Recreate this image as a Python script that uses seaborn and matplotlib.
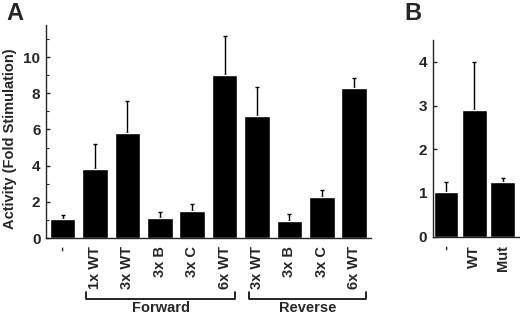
import matplotlib
matplotlib.use("Agg")
import matplotlib.pyplot as plt
import matplotlib.transforms as mtransforms
import seaborn as sns
import pandas as pd
import numpy as np

# ---- data ----
a_keys = ["-", "F 1x WT", "F 3x WT", "F 3x B", "F 3x C", "F 6x WT",
          "R 3x WT", "R 3x B", "R 3x C", "R 6x WT"]
a_labels = ["-", "1x WT", "3x WT", "3x B", "3x C", "6x WT",
            "3x WT", "3x B", "3x C", "6x WT"]
a_values = [1.05, 3.8, 5.78, 1.12, 1.5, 9.0, 6.75, 0.95, 2.25, 8.27]
a_errors = [0.2, 1.42, 1.78, 0.3, 0.4, 2.15, 1.6, 0.35, 0.4, 0.57]

b_labels = ["-", "WT", "Mut"]
b_values = [1.02, 2.9, 1.25]
b_errors = [0.23, 1.1, 0.1]

groups = ["Forward", "Reverse"]

sns.set_style("ticks")
plt.rcParams["font.family"] = ["Liberation Sans", "DejaVu Sans"]
plt.rcParams["font.weight"] = "bold"

fig = plt.figure(figsize=(5.2, 3.15), dpi=100)
axA = fig.add_axes([0.0885, 0.2444, 0.713 - 0.0885, 0.9206 - 0.2444])
axB = fig.add_axes([0.832, 0.2486, 0.998 - 0.832, 0.873 - 0.2486])

dfA = pd.DataFrame({"key": a_keys, "value": a_values})
dfB = pd.DataFrame({"key": b_labels, "value": b_values})

sns.barplot(data=dfA, x="key", y="value", order=a_keys, color="black",
            saturation=1, width=0.79, ax=axA, errorbar=None, zorder=2)
sns.barplot(data=dfB, x="key", y="value", order=b_labels, color="black",
            saturation=1, width=0.87, ax=axB, errorbar=None, zorder=2)

for ax, vals, errs in [(axA, a_values, a_errors), (axB, b_values, b_errors)]:
    xs = np.arange(len(vals))
    ax.errorbar(xs, vals, yerr=[np.zeros(len(vals)), errs], fmt="none",
                ecolor="black", elinewidth=1.0, capsize=1.5, capthick=1.0,
                zorder=1)
    sns.despine(ax=ax)
    ax.set_xlabel("")
    ax.set_ylabel("")
    ax.spines["left"].set_linewidth(1.0)
    ax.spines["bottom"].set_linewidth(1.0)
    ax.tick_params(axis="x", length=0, pad=6)
    ax.tick_params(axis="y", which="major", direction="in", length=3,
                   width=1, pad=4, labelsize=11)
    ax.tick_params(axis="y", which="minor", direction="in", length=2,
                   width=0.8)

axA.set_xlim(-0.51, 9.51)
axA.set_ylim(0, 11.77)
axA.set_yticks([0, 2, 4, 6, 8, 10])
axA.set_yticks([1, 3, 5, 7, 9, 11], minor=True)
axA.set_xticks(range(len(a_labels)))
axA.set_xticklabels(a_labels, rotation=90, fontsize=10.5, fontweight="bold",
                    va="top")

axB.set_xlim(-0.48, 2.58)
axB.set_ylim(0, 4.5)
axB.set_yticks([0, 1, 2, 3, 4])
axB.set_xticks(range(len(b_labels)))
axB.set_xticklabels(b_labels, rotation=90, fontsize=10.5, fontweight="bold",
                    va="top")

for lab in axA.get_yticklabels() + axB.get_yticklabels():
    lab.set_fontweight("bold")

axA.set_ylabel("Activity (Fold Stimulation)", fontsize=10.5,
               fontweight="bold", labelpad=4)
axA.yaxis.set_label_coords(-0.09, 0.467)

# brackets
trans = mtransforms.blended_transform_factory(axA.transData, axA.transAxes)
brackets = [(groups[0], 0.725, 5.32), (groups[1], 5.76, 9.37)]
for name, x0, x1 in brackets:
    axA.plot([x0, x0, x1, x1], [-0.252, -0.285, -0.285, -0.252],
             color="black", lw=1.2, transform=trans, clip_on=False)
    axA.text((x0 + x1) / 2, -0.33, name, transform=trans, ha="center",
             va="center", fontsize=10.5, fontweight="bold")

fig.text(15 / 520, 1 - 14 / 315, "A", fontsize=17, fontweight="bold",
         ha="center", va="center")
fig.text(413 / 520, 1 - 13 / 315, "B", fontsize=17, fontweight="bold",
         ha="center", va="center")

fig.savefig("out.png", dpi=100)
